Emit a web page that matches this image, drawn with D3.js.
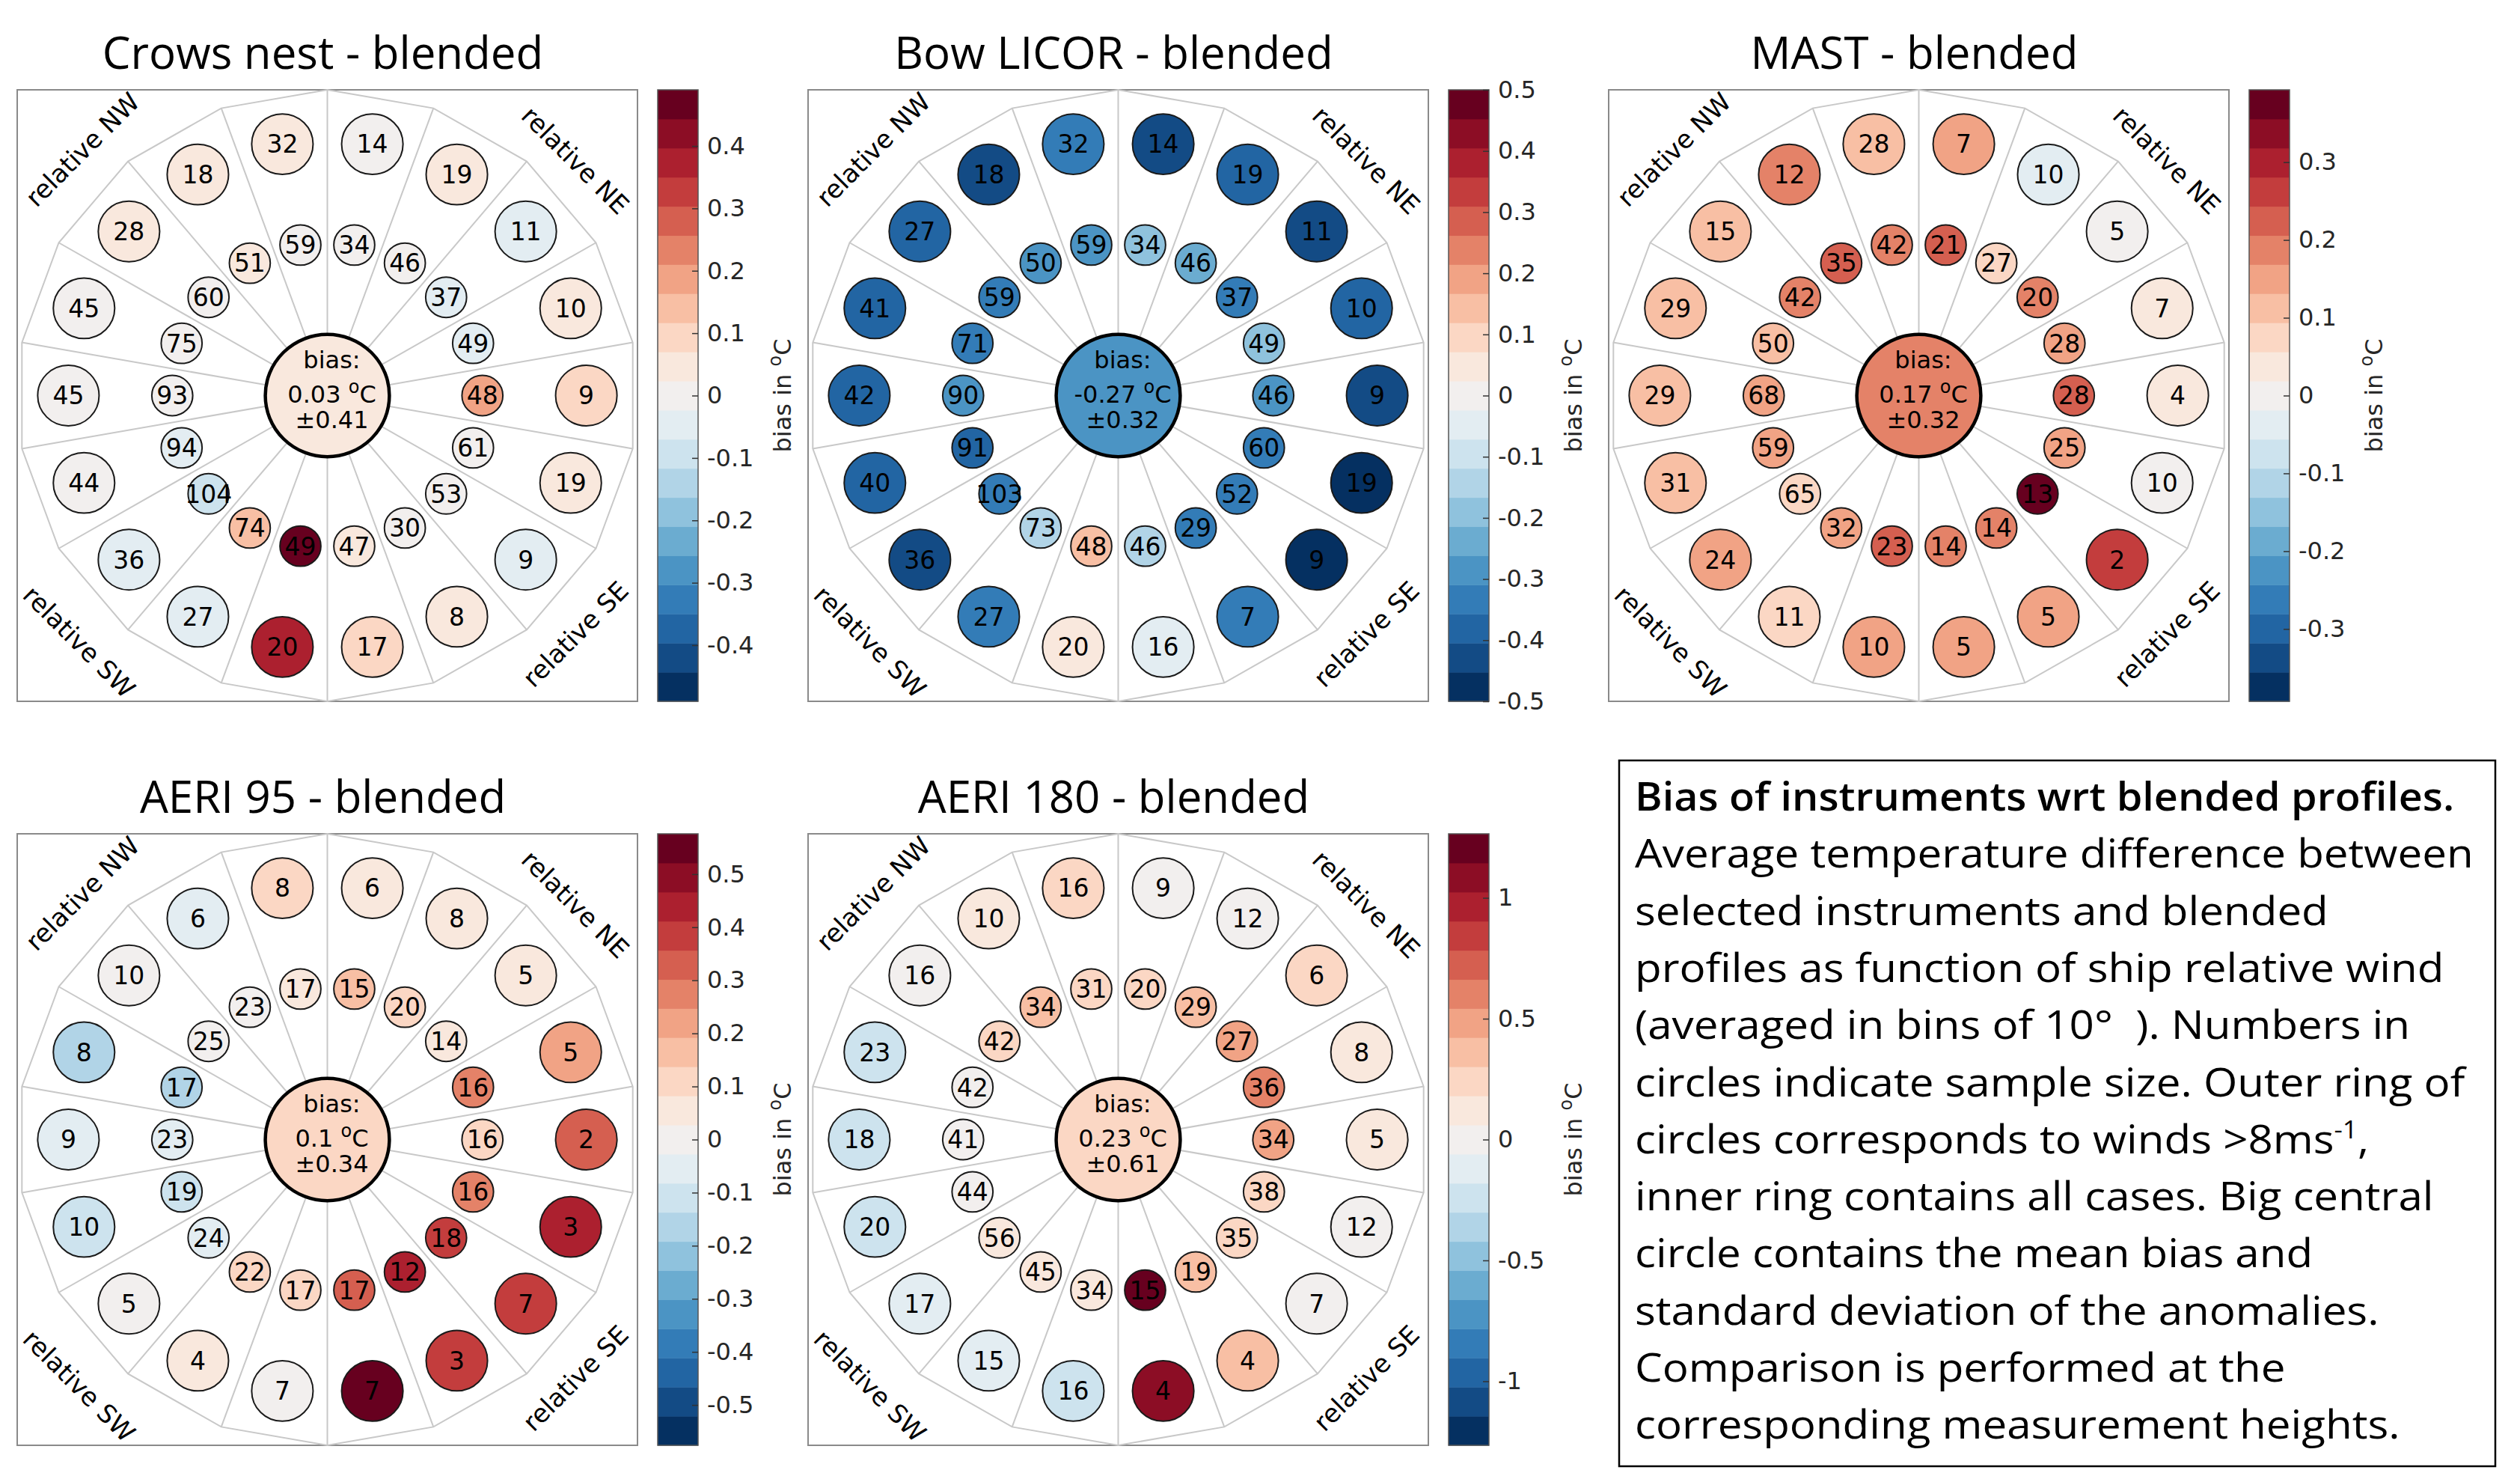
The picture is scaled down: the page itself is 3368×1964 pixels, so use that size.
<!DOCTYPE html>
<html>
<head>
<meta charset="utf-8">
<script src="https://cdn.jsdelivr.net/npm/d3@7"></script>
<style>
  body { margin: 0; background: #fff; }
  svg text { font-family: "DejaVu Sans", sans-serif; }
</style>
</head>
<body>
<div id="chart"></div>
<script>

// panel titles and colour bar settings
var titles = ["Crows nest - blended", "Bow LICOR - blended", "MAST - blended", "AERI 95 - blended", "AERI 180 - blended"];
var color_limits = [0.49, 0.5, 0.393, 0.576, 1.265];
var color_ticks = [
	[0.4, 0.3, 0.2, 0.1, 0, -0.1, -0.2, -0.3, -0.4],
	[0.5, 0.4, 0.3, 0.2, 0.1, 0, -0.1, -0.2, -0.3, -0.4, -0.5],
	[0.3, 0.2, 0.1, 0, -0.1, -0.2, -0.3],
	[0.5, 0.4, 0.3, 0.2, 0.1, 0, -0.1, -0.2, -0.3, -0.4, -0.5],
	[1, 0.5, 0, -0.5, -1]
];
var mean_bias = [0.03, -0.27, 0.17, 0.1, 0.23];
var std_bias = [0.41, 0.32, 0.32, 0.34, 0.61];
var corner_labels = ["relative NW", "relative NE", "relative SW", "relative SE"];

// 18 sectors of 20 deg, clockwise from relative north (first sector = 0-20 deg)
var crows_outer_n    = [14, 19, 11, 10, 9, 19, 9, 8, 17, 20, 27, 36, 44, 45, 45, 28, 18, 32];
var crows_outer_bias = [0.0, 0.05, -0.05, 0.05, 0.09, 0.05, -0.05, 0.05, 0.09, 0.37, -0.05, -0.05, 0.0, 0.0, 0.0, 0.05, 0.05, 0.05];
var crows_inner_n    = [34, 46, 37, 49, 48, 61, 53, 30, 47, 49, 74, 104, 94, 93, 75, 60, 51, 59];
var crows_inner_bias = [0.0, 0.0, -0.05, -0.05, 0.19, 0.0, 0.0, 0.0, 0.05, 0.47, 0.14, -0.09, -0.05, 0.0, 0.0, 0.0, 0.05, 0.0];

var bow_outer_n    = [14, 19, 11, 10, 9, 19, 9, 7, 16, 20, 27, 36, 40, 42, 41, 27, 18, 32];
var bow_outer_bias = [-0.43, -0.38, -0.43, -0.38, -0.43, -0.48, -0.48, -0.33, -0.05, 0.05, -0.33, -0.43, -0.38, -0.38, -0.38, -0.38, -0.43, -0.33];
var bow_inner_n    = [34, 46, 37, 49, 46, 60, 52, 29, 46, 48, 73, 103, 91, 90, 71, 59, 50, 59];
var bow_inner_bias = [-0.19, -0.24, -0.33, -0.19, -0.29, -0.33, -0.33, -0.33, -0.14, 0.14, -0.14, -0.33, -0.38, -0.29, -0.33, -0.33, -0.29, -0.29];

var mast_outer_n    = [7, 10, 5, 7, 4, 10, 2, 5, 5, 10, 11, 24, 31, 29, 29, 15, 12, 28];
var mast_outer_bias = [0.15, -0.04, 0.0, 0.04, 0.04, 0.0, 0.26, 0.15, 0.15, 0.15, 0.07, 0.15, 0.11, 0.11, 0.11, 0.11, 0.19, 0.11];
var mast_inner_n    = [21, 27, 20, 28, 28, 25, 13, 14, 14, 23, 32, 65, 59, 68, 50, 42, 35, 42];
var mast_inner_bias = [0.22, 0.07, 0.19, 0.15, 0.22, 0.15, 0.37, 0.19, 0.19, 0.22, 0.15, 0.07, 0.15, 0.15, 0.11, 0.19, 0.22, 0.19];

var aeri95_outer_n    = [6, 8, 5, 5, 2, 3, 7, 3, 7, 7, 4, 5, 10, 9, 8, 10, 6, 8];
var aeri95_outer_bias = [0.05, 0.05, 0.05, 0.22, 0.33, 0.44, 0.38, 0.38, 0.55, 0.0, 0.05, 0.0, -0.11, -0.05, -0.16, 0.0, -0.05, 0.11];
var aeri95_inner_n    = [15, 20, 14, 16, 16, 16, 18, 12, 17, 17, 22, 24, 19, 23, 17, 25, 23, 17];
var aeri95_inner_bias = [0.16, 0.11, 0.05, 0.27, 0.11, 0.27, 0.38, 0.44, 0.33, 0.11, 0.11, -0.05, -0.11, -0.05, -0.16, 0.0, 0.0, 0.05];

var aeri180_outer_n    = [9, 12, 6, 8, 5, 12, 7, 4, 4, 16, 15, 17, 20, 18, 23, 16, 10, 16];
var aeri180_outer_bias = [0.0, 0.0, 0.24, 0.11, 0.11, 0.0, 0.0, 0.35, 1.08, -0.24, -0.12, -0.12, -0.24, -0.24, -0.24, 0.0, 0.11, 0.24];
var aeri180_inner_n    = [20, 29, 27, 36, 34, 38, 35, 19, 15, 34, 45, 56, 44, 41, 42, 42, 34, 31];
var aeri180_inner_bias = [0.24, 0.35, 0.48, 0.6, 0.48, 0.24, 0.24, 0.35, 1.2, 0.11, 0.11, 0.11, 0.0, 0.0, 0.0, 0.24, 0.35, 0.24];

var note_lines = [
	"Bias of instruments wrt blended profiles.",
	"Average temperature difference between",
	"selected instruments and blended",
	"profiles as function of ship relative wind",
	"(averaged in bins of 10\u00b0  ). Numbers in",
	"circles indicate sample size. Outer ring of",
	"circles corresponds to winds >8ms^{-1},",
	"inner ring contains all cases. Big central",
	"circle contains the mean bias and",
	"standard deviation of the anomalies.",
	"Comparison is performed at the",
	"corresponding measurement heights."
];

// lists to loop through
var all_outer_n = [crows_outer_n, bow_outer_n, mast_outer_n, aeri95_outer_n, aeri180_outer_n];
var all_outer_bias = [crows_outer_bias, bow_outer_bias, mast_outer_bias, aeri95_outer_bias, aeri180_outer_bias];
var all_inner_n = [crows_inner_n, bow_inner_n, mast_inner_n, aeri95_inner_n, aeri180_inner_n];
var all_inner_bias = [crows_inner_bias, bow_inner_bias, mast_inner_bias, aeri95_inner_bias, aeri180_inner_bias];

// layout (pixels)
var panel_x = [23, 1080, 2150, 23, 1080],
	panel_y = [120, 120, 120, 1114, 1114],
	box_w = 829,
	box_h = 817,
	cbar_gap = 27,
	cbar_w = 54;

// ring geometry in data units (polygon radius = 1)
var r_outer = 0.835, r_inner = 0.5, c_outer = 0.099, c_inner = 0.066, c_center = 0.2;
var n_levels = 21;

function binColor(v, vmax) {
	var k = Math.floor((v + vmax) / (2 * vmax) * n_levels);
	k = Math.max(0, Math.min(n_levels - 1, k));
	return d3.interpolateRdBu(1 - k / (n_levels - 1));
}

var svg = d3.select("#chart")
	.append("svg")
	.attr("width", 3368)
	.attr("height", 1964);

svg.append("rect").attr("width", 3368).attr("height", 1964).attr("fill", "#fff");

var sectors = d3.range(18);

for (var i = 0; i < titles.length; i++) {
	var px = panel_x[i], py = panel_y[i];
	var vmax = color_limits[i];

	var x = d3.scaleLinear().domain([-1, 1]).range([px, px + box_w]),
		y = d3.scaleLinear().domain([-1, 1]).range([py + box_h, py]);

	var g = svg.append("g");

	// title
	g.append("text")
		.attr("x", px + box_w / 2 - 6)
		.attr("y", py - 28)
		.attr("text-anchor", "middle")
		.style("font-family", "'Open Sans', sans-serif")
		.style("font-size", "60px")
		.style("font-weight", 500)
		.attr("fill", "#000")
		.text(titles[i]);

	// axes box
	g.append("rect")
		.attr("x", px).attr("y", py)
		.attr("width", box_w).attr("height", box_h)
		.attr("fill", "#fff")
		.attr("stroke", "#8a8a8a")
		.attr("stroke-width", 2);

	// 18-gon and radial lines
	var verts = d3.range(18).map(function(k) {
		var a = k * 20 * Math.PI / 180;
		return [Math.sin(a), Math.cos(a)];
	});
	g.append("path")
		.attr("d", d3.line().x(function(d) { return x(d[0]); }).y(function(d) { return y(d[1]); })(verts) + "Z")
		.attr("fill", "none")
		.attr("stroke", "#c8c8c8")
		.attr("stroke-width", 2);
	g.selectAll(".spoke")
		.data(verts)
		.enter()
		.append("line")
		.attr("x1", x(0)).attr("y1", y(0))
		.attr("x2", function(d) { return x(d[0]); })
		.attr("y2", function(d) { return y(d[1]); })
		.attr("stroke", "#c8c8c8")
		.attr("stroke-width", 2);

	// rings of circles
	var rings = [
		{r: r_outer, size: c_outer, n: all_outer_n[i], bias: all_outer_bias[i]},
		{r: r_inner, size: c_inner, n: all_inner_n[i], bias: all_inner_bias[i]}
	];
	rings.forEach(function(ring) {
		var pts = sectors.map(function(k) {
			var a = (10 + 20 * k) * Math.PI / 180;
			return {px: ring.r * Math.sin(a), py: ring.r * Math.cos(a), n: ring.n[k], bias: ring.bias[k]};
		});
		var rx = x(ring.size) - x(0), ry = y(0) - y(ring.size);
		var cg = g.append("g");
		cg.selectAll("ellipse")
			.data(pts)
			.enter()
			.append("ellipse")
			.attr("cx", function(d) { return x(d.px); })
			.attr("cy", function(d) { return y(d.py); })
			.attr("rx", rx).attr("ry", ry)
			.attr("fill", function(d) { return binColor(d.bias, vmax); })
			.attr("stroke", "#1a1a1a")
			.attr("stroke-width", 2);
		cg.selectAll("text")
			.data(pts)
			.enter()
			.append("text")
			.attr("x", function(d) { return x(d.px); })
			.attr("y", function(d) { return y(d.py); })
			.attr("dy", "0.36em")
			.attr("text-anchor", "middle")
			.style("font-size", "33px")
			.attr("fill", "#000")
			.text(function(d) { return d.n; });
	});

	// corner labels
	var corners = [[-0.79, 0.805, -45], [0.80, 0.77, 45], [-0.80, -0.805, 45], [0.80, -0.78, -45]];
	corners.forEach(function(c, j) {
		g.append("text")
			.attr("transform", "translate(" + x(c[0]) + "," + y(c[1]) + ") rotate(" + c[2] + ")")
			.attr("dy", "0.36em")
			.attr("text-anchor", "middle")
			.style("font-size", "34px")
			.attr("fill", "#000")
			.text(corner_labels[j]);
	});

	// central circle
	var cx0 = x(0), cy0 = y(0);
	g.append("ellipse")
		.attr("cx", cx0).attr("cy", cy0)
		.attr("rx", x(c_center) - x(0)).attr("ry", y(0) - y(c_center))
		.attr("fill", binColor(mean_bias[i], vmax))
		.attr("stroke", "#000")
		.attr("stroke-width", 4.5);
	g.append("text")
		.attr("x", cx0 + 6).attr("y", cy0 - 37)
		.attr("text-anchor", "middle")
		.style("font-size", "32px")
		.text("bias:");
	var t2 = g.append("text")
		.attr("x", cx0 + 6).attr("y", cy0 + 9)
		.attr("text-anchor", "middle")
		.style("font-size", "32px");
	t2.append("tspan").text(mean_bias[i] + " ");
	t2.append("tspan").attr("dy", -13).style("font-size", "24px").text("o");
	t2.append("tspan").attr("dy", 13).text("C");
	g.append("text")
		.attr("x", cx0 + 6).attr("y", cy0 + 43)
		.attr("text-anchor", "middle")
		.style("font-size", "32px")
		.text("\u00b1" + std_bias[i]);

	// colour bar
	var cbx = px + box_w + cbar_gap;
	var cy = d3.scaleLinear().domain([-vmax, vmax]).range([py + box_h, py]);
	var bw = 2 * vmax / n_levels;
	g.selectAll(".band")
		.data(d3.range(n_levels))
		.enter()
		.append("rect")
		.attr("x", cbx)
		.attr("y", function(k) { return cy(-vmax + (k + 1) * bw); })
		.attr("width", cbar_w)
		.attr("height", function(k) { return cy(-vmax + k * bw) - cy(-vmax + (k + 1) * bw) + 0.5; })
		.attr("fill", function(k) { return d3.interpolateRdBu(1 - k / (n_levels - 1)); });
	g.append("rect")
		.attr("x", cbx).attr("y", py)
		.attr("width", cbar_w).attr("height", box_h)
		.attr("fill", "none")
		.attr("stroke", "#555")
		.attr("stroke-width", 1.5);

	var cAxis = g.append("g")
		.attr("transform", "translate(" + (cbx + cbar_w) + ",0)")
		.call(d3.axisRight(cy)
			.tickValues(color_ticks[i])
			.tickSize(-8)
			.tickPadding(12)
			.tickFormat(function(d) { return String(d); }));
	cAxis.select(".domain").remove();
	cAxis.selectAll(".tick line").attr("stroke", "#333").attr("stroke-width", 1.5);
	cAxis.selectAll(".tick text")
		.style("font-family", "'DejaVu Sans', sans-serif")
		.style("font-size", "32px")
		.attr("fill", "#262626");

	// colour bar label
	var lab = g.append("text")
		.attr("transform", "translate(" + (cbx + cbar_w + 124) + "," + (py + box_h / 2) + ") rotate(-90)")
		.attr("text-anchor", "middle")
		.style("font-size", "32px")
		.attr("fill", "#262626");
	lab.append("tspan").text("bias in ");
	lab.append("tspan").attr("dy", -13).style("font-size", "24px").text("o");
	lab.append("tspan").attr("dy", 13).text("C");
}

// explanation box
svg.append("rect")
	.attr("x", 2164).attr("y", 1016)
	.attr("width", 1171).attr("height", 943)
	.attr("fill", "#fff")
	.attr("stroke", "#000")
	.attr("stroke-width", 2.5);

note_lines.forEach(function(line, j) {
	var tg = svg.append("g")
		.attr("transform", "translate(2185," + (1083 + j * 76.3) + ") scale(" + (j === 0 ? 1.05 : 1.1) + ",1)");
	var t = tg.append("text")
		.attr("x", 0).attr("y", 0)
		.style("font-family", "'Open Sans', sans-serif")
		.style("font-size", "53px")
		.style("font-weight", j === 0 ? 600 : 400)
		.style("white-space", "pre")
		.attr("fill", "#000");
	var m = line.match(/^(.*)\^\{(.*?)\}(.*)$/);
	if (m) {
		t.append("tspan").text(m[1]);
		t.append("tspan").attr("dy", -20).style("font-size", "32px").text(m[2]);
		t.append("tspan").attr("dy", 20).text(m[3]);
	} else {
		t.text(line);
	}
});

</script>
</body>
</html>
